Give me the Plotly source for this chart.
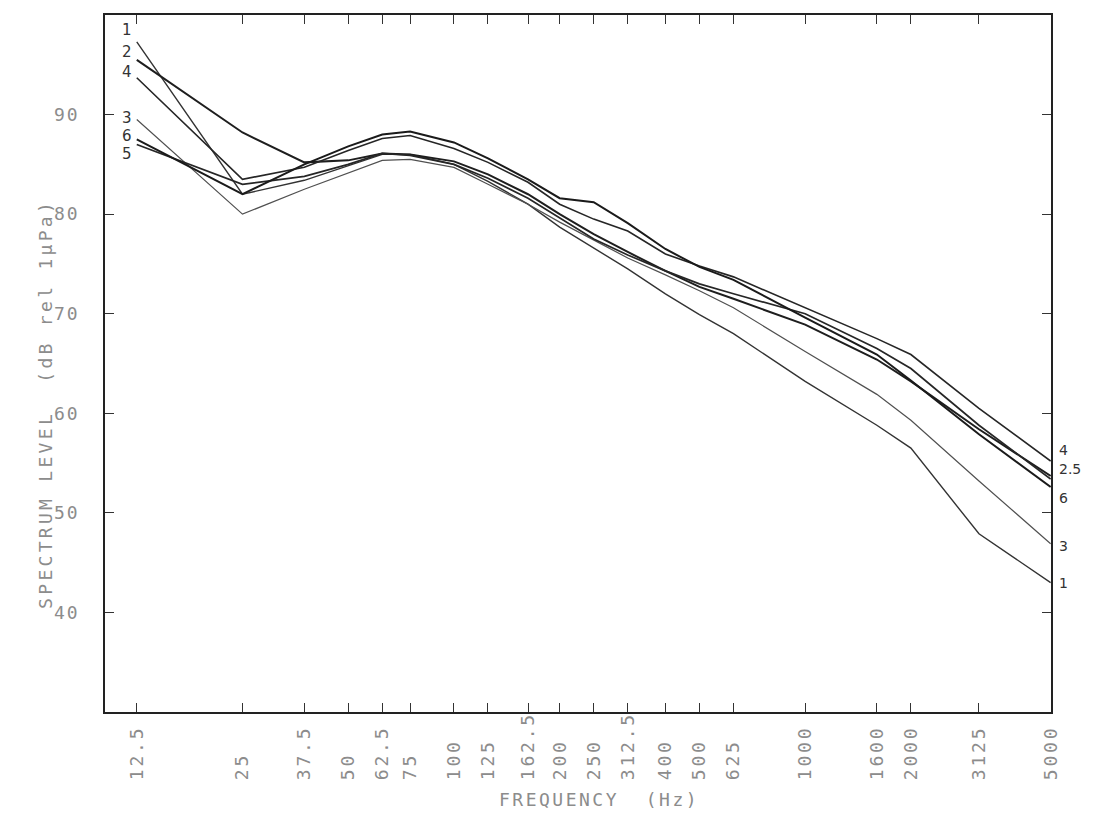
import plotly.graph_objects as go
import math

freqs = [12.5, 25, 37.5, 50, 62.5, 75, 100, 125, 162.5, 200, 250, 312.5,
         400, 500, 625, 1000, 1600, 2000, 3125, 5000]
freq_labels = ["12.5", "25", "37.5", "50", "62.5", "75", "100", "125", "162.5",
               "200", "250", "312.5", "400", "500", "625", "1000", "1600",
               "2000", "3125", "5000"]
level_ticks = [40, 50, 60, 70, 80, 90]

s1 = [97.3, 82.0, 83.4, 84.9, 86.0, 86.0, 85.0, 83.3, 81.0, 78.7, 76.6, 74.5,
      72.0, 69.9, 68.0, 63.2, 58.8, 56.5, 47.9, 43.0]
s2 = [95.5, 88.2, 85.2, 85.4, 86.1, 86.0, 85.3, 84.0, 82.0, 80.0, 78.0, 76.2,
      74.3, 72.7, 71.5, 68.9, 65.4, 63.2, 58.4, 53.7]
s3 = [89.5, 80.0, 82.5, 84.1, 85.4, 85.5, 84.7, 83.0, 81.0, 79.2, 77.4, 75.6,
      73.9, 72.3, 70.6, 66.2, 61.9, 59.3, 53.2, 46.9]
s4 = [93.7, 83.5, 84.7, 86.4, 87.6, 87.9, 86.6, 85.2, 83.2, 81.0, 79.5, 78.3,
      76.0, 74.8, 73.7, 70.6, 67.5, 65.9, 60.5, 55.2]
s5 = [87.0, 83.0, 83.8, 85.0, 86.1, 85.9, 85.0, 83.6, 81.6, 79.6, 77.5, 75.9,
      74.3, 73.0, 72.0, 70.0, 66.5, 64.5, 58.8, 53.4]
s6 = [87.5, 82.0, 85.0, 86.8, 88.0, 88.3, 87.2, 85.6, 83.5, 81.6, 81.2, 79.1,
      76.5, 74.7, 73.4, 69.6, 65.9, 63.3, 57.9, 52.6]

series = [("1", s1, "#333333", 1.4), ("2", s2, "#1e1e1e", 2.0),
          ("3", s3, "#505050", 1.2), ("4", s4, "#262626", 1.6),
          ("5", s5, "#262626", 1.7), ("6", s6, "#1a1a1a", 2.0)]

left_labels = ["1", "2", "4", "3", "6", "5"]
left_label_y = [28, 50, 70, 116, 134, 152]
right_labels = ["4", "2.5", "6", "3", "1"]
right_label_y = [449, 468, 497, 546, 583]

# page geometry (the html body adds an 8px offset)
OFF = 8
W, H = 1094 - 2 * OFF, 819 - 2 * OFF
PL, PR, PT, PB = 105, 1051, 13, 712          # plot box in page pixels
L, R, T, B = PL - OFF, PR - OFF, PT - OFF, PB - OFF
GRAY = "#8c8c8c"
MONO = "DejaVu Sans Mono"


def spaced(t, sp):
    return '<span style="letter-spacing:%spx">%s</span>' % (sp, t)


def px_x(page_x):
    return (page_x - OFF - L) / (R - L)


def px_y(page_y):
    return (B - (page_y - OFF)) / (B - T)


def note(text, x, y, size, color, family, xanchor="center", angle=0):
    return dict(x=px_x(x), y=px_y(y), xref="paper", yref="paper", text=text,
                showarrow=False, xanchor=xanchor, yanchor="middle",
                textangle=angle, font=dict(size=size, color=color, family=family))


fig = go.Figure()
for name, vals, col, w in series:
    fig.add_trace(go.Scatter(x=freqs, y=vals, mode="lines", name=name,
                             line=dict(color=col, width=w), showlegend=False))

ann = []
for t, py in zip(left_labels, left_label_y):
    ann.append(note(t, 127, py, 15, "#333333", "DejaVu Sans"))
for t, py in zip(right_labels, right_label_y):
    ann.append(note(t, 1057, py, 14, "#333333", "DejaVu Sans", xanchor="left"))
ann.append(note(spaced("SPECTRUM LEVEL  (dB rel 1\u03bcPa)", 3.3), 46, 403,
                18, GRAY, MONO, angle=-90))
ann.append(note(spaced("FREQUENCY  (Hz)", 2.5), 599, 800, 18, GRAY, MONO))

NB = "\u00a0"
tick_text = [spaced(t + NB * (5 - len(t)), 2.8) for t in freq_labels]

fig.update_layout(
    width=W, height=H,
    margin=dict(l=L, r=W - R, t=T, b=H - B),
    paper_bgcolor="white", plot_bgcolor="white",
    annotations=ann,
)
fig.update_xaxes(type="log", range=[math.log10(10.15), math.log10(5000) + 0.001],
                 tickvals=freqs, ticktext=tick_text,
                 tickangle=-90,
                 ticks="inside", ticklen=9, tickwidth=1.2, tickcolor="#333",
                 showline=True, linecolor="#222", linewidth=1.6,
                 mirror="ticks", showgrid=False, zeroline=False,
                 ticklabelstandoff=-9,
                 tickfont=dict(size=18, color=GRAY, family=MONO))
fig.update_yaxes(range=[30, 100], tickvals=level_ticks,
                 ticktext=[spaced(str(v), 2) for v in level_ticks],
                 ticks="inside", ticklen=9, tickwidth=1.2, tickcolor="#333",
                 showline=True, linecolor="#222", linewidth=1.6,
                 mirror="ticks", showgrid=False, zeroline=False,
                 ticklabelstandoff=20,
                 tickfont=dict(size=18, color=GRAY, family=MONO))

fig.write_html("out.html")
